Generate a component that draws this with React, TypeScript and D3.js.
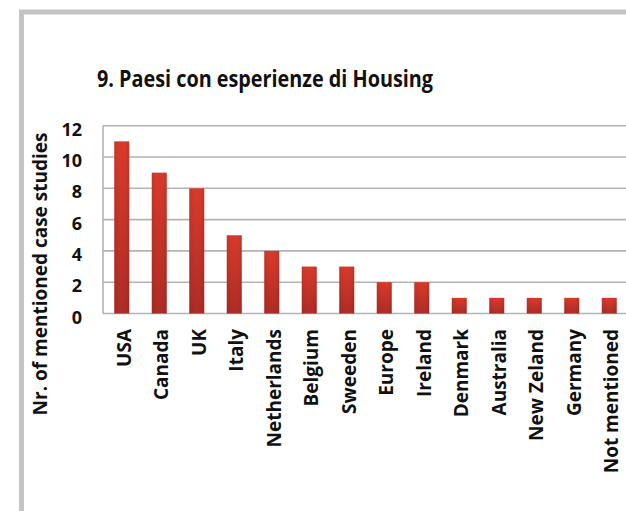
import React from "react";
import * as d3 from "d3";

const categories = ["USA", "Canada", "UK", "Italy", "Netherlands", "Belgium", "Sweeden", "Europe", "Ireland", "Denmark", "Australia", "New Zeland", "Germany", "Not mentioned"];
const values = [11, 9, 8, 5, 4, 3, 3, 2, 2, 1, 1, 1, 1, 1];
const yTicks = [0, 2, 4, 6, 8, 10, 12];
const title = "9. Paesi con esperienze di Housing";
const yTitle = "Nr. of mentioned case studies";

const W = 626;
const H = 511;
const FONT = "'Open Sans', 'DejaVu Sans', sans-serif";

export default function App() {
  const left = 103;
  const step = 37.5;
  const x = d3
    .scaleBand<string>()
    .domain(categories)
    .range([left, left + step * categories.length])
    .paddingInner(0.6)
    .paddingOuter(0.3);
  const y = d3.scaleLinear().domain([0, 12]).range([313.5, 125.7]);
  const right = W + 10;

  return (
    <svg
      width={W}
      height={H}
      style={{ position: "absolute", left: 0, top: 0, background: "#fff" }}
      fontFamily={FONT}
    >
      <defs>
        <linearGradient id="barGrad" x1="0" y1="0" x2="0" y2="1">
          <stop offset="0%" stopColor="#d83a2b" />
          <stop offset="100%" stopColor="#ad2c25" />
        </linearGradient>
        <linearGradient id="barGradH" x1="0" y1="0" x2="1" y2="0">
          <stop offset="0%" stopColor="#000" stopOpacity={0.08} />
          <stop offset="30%" stopColor="#000" stopOpacity={0} />
          <stop offset="75%" stopColor="#000" stopOpacity={0} />
          <stop offset="100%" stopColor="#000" stopOpacity={0.1} />
        </linearGradient>
      </defs>
      <rect x={0} y={0} width={W} height={H} fill="#fff" />
      {/* outer frame */}
      <path d={`M21.5,${H + 5} V12 H${W + 5}`} fill="none" stroke="#c3c3c6" strokeWidth={5} />

      {/* title */}
      <text x={265} y={87} textAnchor="middle" fontSize={24} fontWeight={700} fill="#111" textLength={336} lengthAdjust="spacingAndGlyphs">
        {title}
      </text>

      {/* gridlines */}
      {yTicks.map((t) => (
        <line key={t} x1={left} x2={right} y1={y(t)} y2={y(t)} stroke="#b3b3b3" strokeWidth={1.6} />
      ))}
      <line x1={left} x2={left} y1={y(12)} y2={y(0)} stroke="#b3b3b3" strokeWidth={1.6} />

      {/* y tick labels */}
      {yTicks.map((t) => (
        <text key={t} x={82} y={y(t) + 3} textAnchor="end" dominantBaseline="central" fontSize={18} fontWeight={700} fill="#111">
          {t}
        </text>
      ))}

      {/* y title */}
      <text
        transform={`translate(47,274) rotate(-90)`}
        textAnchor="middle"
        fontSize={19}
        fontWeight={700}
        fill="#111"
      >
        {yTitle}
      </text>

      {/* bars */}
      {categories.map((c, i) => (
        <g key={c}>
          <rect x={x(c)!} y={y(values[i])} width={x.bandwidth()} height={y(0) - y(values[i])} fill="url(#barGrad)" />
          <rect x={x(c)!} y={y(values[i])} width={x.bandwidth()} height={y(0) - y(values[i])} fill="url(#barGradH)" />
        </g>
      ))}

      {/* category labels */}
      {categories.map((c) => (
        <text
          key={c}
          transform={`translate(${x(c)! + x.bandwidth() / 2 + 2},329) rotate(-90)`}
          textAnchor="end"
          dominantBaseline="central"
          fontSize={19}
          fontWeight={700}
          fill="#111"
        >
          {c}
        </text>
      ))}
    </svg>
  );
}
